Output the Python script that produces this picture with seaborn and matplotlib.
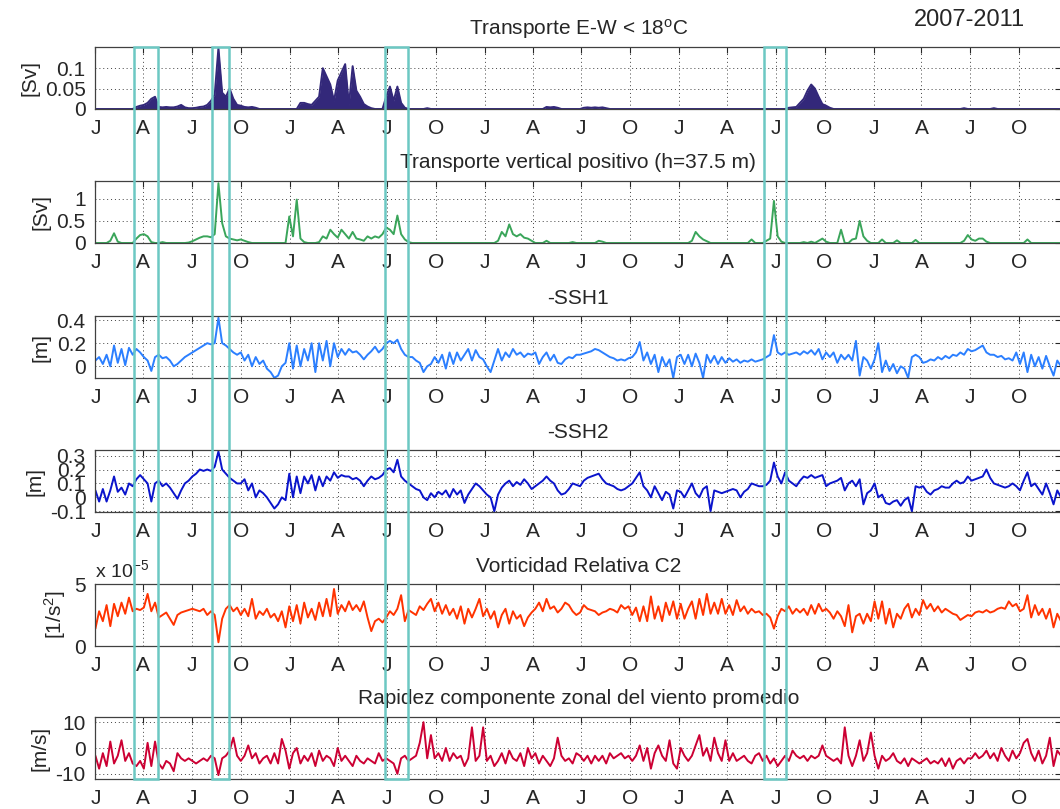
import pandas as pd
import matplotlib
matplotlib.use("Agg")
import matplotlib.pyplot as plt
import matplotlib.dates as mdates
import matplotlib.transforms as mtransforms
from matplotlib.patches import Rectangle
import seaborn as sns

# ---------------------------
# Style
# ---------------------------
sns.set_style("white")
plt.rcParams["font.family"] = ["Liberation Sans", "DejaVu Sans"]
plt.rcParams["mathtext.default"] = "regular"

# ---------------------------
# Data (weekly samples, one row per quarter)
# ---------------------------
START = "2007-01-01"
END = "2011-12-19"

EW_TRANSPORT = [
    0, 0, 0, 0, 0, 0, 0, 0, 0, 0, 0, 0.005, 0.008,
    0.01, 0.015, 0.025, 0.03, 0.005, 0.004, 0.005, 0.004, 0.004, 0.006, 0.01, 0.004, 0.002,
    0.002, 0.003, 0.005, 0.006, 0.01, 0.02, 0.035, 0.15, 0.04, 0.03, 0.05, 0.025, 0.01,
    0.008, 0.005, 0.004, 0.005, 0.003, 0, 0, 0, 0, 0, 0, 0, 0,
    0, 0, 0, 0.015, 0.015, 0.012, 0.01, 0.02, 0.03, 0.1, 0.08, 0.06, 0.02,
    0.07, 0.09, 0.11, 0.01, 0.105, 0.045, 0.03, 0.012, 0.006, 0.002, 0, 0, 0,
    0.03, 0.055, 0.02, 0.055, 0.015, 0.003, 0, 0, 0, 0, 0, 0.002, 0,
    0, 0, 0, 0, 0, 0, 0, 0, 0, 0, 0, 0, 0,
    0, 0, 0, 0, 0, 0, 0, 0, 0, 0, 0, 0, 0,
    0, 0, 0, 0, 0.005, 0.004, 0.005, 0.003, 0, 0, 0, 0, 0,
    0, 0.003, 0.004, 0.003, 0.004, 0.003, 0.004, 0.002, 0, 0, 0, 0, 0,
    0, 0, 0, 0, 0, 0, 0, 0, 0, 0, 0, 0, 0,
    0, 0, 0, 0, 0, 0, 0, 0, 0, 0, 0, 0, 0,
    0, 0, 0, 0, 0, 0, 0, 0, 0, 0, 0, 0, 0,
    0, 0, 0, 0, 0.003, 0.004, 0.005, 0.015, 0.025, 0.045, 0.06, 0.05, 0.03,
    0.012, 0.008, 0.003, 0, 0, 0, 0, 0, 0, 0, 0, 0, 0,
    0, 0, 0, 0, 0, 0, 0, 0, 0, 0, 0, 0, 0,
    0, 0, 0, 0, 0, 0, 0, 0, 0, 0, 0, 0, 0.002,
    0, 0, 0, 0, 0, 0, 0, 0.002, 0, 0, 0, 0, 0,
    0, 0, 0, 0, 0, 0, 0, 0, 0, 0, 0, 0, 0,
]

VERTICAL_TRANSPORT = [
    0, 0, 0, 0, 0.05, 0.22, 0.03, 0, 0, 0, 0, 0.1, 0.18,
    0.2, 0.15, 0.02, 0, 0, 0.02, 0, 0, 0, 0, 0, 0, 0.01,
    0.04, 0.08, 0.12, 0.15, 0.15, 0.13, 0.2, 1.35, 0.45, 0.15, 0.1, 0.08, 0.06,
    0.08, 0.05, 0.02, 0, 0, 0, 0, 0, 0, 0, 0, 0, 0,
    0.6, 0.15, 0.98, 0.1, 0.02, 0, 0, 0, 0.02, 0.15, 0.1, 0.3, 0.2,
    0.12, 0.3, 0.2, 0.1, 0.25, 0.1, 0.08, 0.05, 0.15, 0.1, 0.15, 0.12, 0.2,
    0.35, 0.3, 0.2, 0.62, 0.2, 0.08, 0.02, 0, 0, 0, 0, 0, 0,
    0, 0, 0, 0, 0, 0, 0, 0, 0, 0, 0, 0, 0,
    0, 0, 0, 0, 0.05, 0.25, 0.15, 0.42, 0.2, 0.15, 0.2, 0.12, 0.1,
    0.05, 0, 0, 0, 0.05, 0, 0, 0, 0, 0, 0, 0.02, 0,
    0, 0, 0, 0, 0, 0.05, 0.03, 0, 0, 0, 0, 0, 0,
    0, 0, 0, 0, 0, 0, 0, 0, 0, 0, 0, 0, 0,
    0, 0, 0, 0, 0.05, 0.25, 0.15, 0.08, 0.04, 0, 0, 0, 0,
    0, 0, 0, 0, 0, 0, 0, 0.08, 0, 0, 0, 0.05, 0.1,
    0.95, 0.15, 0.03, 0, 0, 0, 0, 0, 0.02, 0, 0.03, 0, 0.05,
    0.1, 0.03, 0, 0, 0, 0.3, 0, 0, 0.08, 0.1, 0.5, 0.15, 0.05,
    0, 0, 0, 0.08, 0, 0, 0, 0.06, 0, 0, 0, 0, 0.07,
    0, 0, 0, 0, 0, 0, 0, 0, 0, 0, 0, 0, 0.05,
    0.18, 0.08, 0.05, 0.1, 0.1, 0.03, 0, 0, 0, 0, 0, 0, 0,
    0, 0, 0, 0.08, 0, 0, 0, 0, 0, 0, 0, 0, 0,
]

SSH1 = [
    0.05, 0.08, 0.02, 0.1, 0.0, 0.18, 0.03, 0.15, 0.01, 0.16, 0.1, 0.15, 0.12,
    0.08, 0.05, -0.04, 0.08, 0.1, 0.07, 0.08, 0.05, 0.0, 0.02, 0.05, 0.08, 0.1,
    0.12, 0.14, 0.16, 0.18, 0.2, 0.19, 0.2, 0.42, 0.2, 0.18, 0.15, 0.12, 0.1,
    0.12, 0.05, 0.1, 0.0, 0.08, 0.02, 0.05, -0.02, -0.05, -0.1, -0.08, 0.0, 0.03,
    0.2, -0.02, 0.18, 0.0, 0.15, 0.05, 0.2, -0.05, 0.2, 0.05, 0.22, 0.0, 0.2,
    0.08, 0.15, 0.1, 0.15, 0.12, 0.13, 0.1, 0.06, 0.1, 0.13, 0.17, 0.12, 0.15,
    0.2, 0.22, 0.2, 0.23, 0.15, 0.1, 0.08, 0.08, 0.05, 0.03, -0.05, 0.0, 0.02,
    0.08, 0.03, 0.1, -0.02, 0.12, 0.02, 0.12, 0.05, 0.1, 0.15, 0.05, 0.14, 0.08,
    0.06, 0.0, -0.05, 0.05, 0.15, 0.05, 0.12, 0.08, 0.15, 0.1, 0.12, 0.08, 0.11,
    0.1, 0.12, 0.02, 0.08, 0.12, 0.05, 0.1, 0.03, 0.02, 0.06, 0.08, 0.07, 0.1,
    0.1, 0.11, 0.12, 0.13, 0.15, 0.14, 0.12, 0.1, 0.08, 0.07, 0.05, 0.06, 0.05,
    0.07, 0.08, 0.12, 0.21, 0.05, 0.12, 0.02, 0.1, -0.05, 0.08, 0.0, 0.06, -0.1,
    0.08, 0.1, 0.02, 0.1, 0.0, 0.11, 0.03, -0.1, 0.1, 0.03, 0.09, 0.02, 0.08,
    0.03, 0.07, 0.04, 0.06, 0.03, 0.05, 0.04, 0.06, 0.04, 0.05, 0.06, 0.08, 0.1,
    0.27, 0.12, 0.1, 0.12, 0.1, 0.11, 0.12, 0.1, 0.13, 0.11, 0.14, 0.1, 0.15,
    0.06, 0.12, 0.08, 0.12, 0.03, 0.1, 0.06, 0.1, 0.05, 0.22, -0.08, 0.08, 0.05,
    -0.02, 0.06, 0.2, -0.05, 0.05, -0.04, 0.02, -0.06, 0.0, -0.02, -0.1, 0.08, 0.1,
    0.08, 0.03, 0.04, 0.06, 0.05, 0.08, 0.06, 0.09, 0.07, 0.1, 0.09, 0.12, 0.1,
    0.15, 0.13, 0.14, 0.16, 0.18, 0.12, 0.1, 0.1, 0.08, 0.09, 0.06, 0.07, 0.05,
    0.12, 0.02, 0.12, -0.05, 0.1, 0.0, 0.08, -0.02, 0.09, 0.0, -0.08, 0.05, 0.0,
]

SSH2 = [
    0.05, -0.03, 0.06, -0.03, 0.05, 0.15, 0.04, 0.07, 0.02, 0.1, 0.08, 0.13, 0.16,
    0.13, 0.1, -0.03, 0.1, 0.12, 0.08, 0.1, 0.07, 0.03, -0.01, 0.05, 0.1, 0.12,
    0.15, 0.17, 0.2, 0.19, 0.2, 0.19, 0.22, 0.33, 0.2, 0.17, 0.14, 0.12, 0.1,
    0.1, 0.13, 0.05, 0.1, 0.0, 0.05, 0.03, 0.0, -0.04, -0.08, -0.05, 0.0, -0.02,
    0.17, 0.0, 0.15, 0.03, 0.15, 0.1, 0.16, 0.05, 0.15, 0.08, 0.15, 0.12, 0.18,
    0.14, 0.16, 0.15, 0.15, 0.13, 0.14, 0.12, 0.08, 0.12, 0.15, 0.13, 0.14, 0.16,
    0.2, 0.21, 0.18, 0.27, 0.15, 0.12, 0.1, 0.08, 0.06, 0.05, 0.0, -0.02, 0.03,
    0.0, 0.04, 0.02, 0.05, 0.0, 0.06, 0.02, 0.05, -0.04, 0.02, 0.06, 0.1, 0.08,
    0.05, 0.02, 0.0, -0.1, 0.02, 0.07, 0.1, 0.12, 0.08, 0.11, 0.09, 0.13, 0.1,
    0.06, 0.08, 0.1, 0.12, 0.15, 0.12, 0.1, 0.05, 0.02, 0.03, 0.06, 0.1, 0.09,
    0.08, 0.12, 0.14, 0.15, 0.16, 0.17, 0.13, 0.1, 0.09, 0.08, 0.06, 0.05, 0.06,
    0.08, 0.1, 0.14, 0.18, 0.08, 0.05, 0.0, 0.08, 0.03, -0.02, 0.04, 0.02, -0.08,
    0.05, 0.04, 0.0, 0.05, 0.1, 0.03, 0.0, 0.06, 0.08, -0.1, 0.05, 0.04, 0.03,
    0.04, 0.05, 0.06, 0.05, 0.0, 0.04, 0.06, 0.1, 0.09, 0.08, 0.08, 0.09, 0.12,
    0.25, 0.15, 0.1, 0.18, 0.12, 0.1, 0.08, 0.12, 0.15, 0.14, 0.16, 0.14, 0.15,
    0.16, 0.08, 0.1, 0.11, 0.12, 0.14, 0.05, 0.1, 0.12, 0.08, 0.13, -0.05, 0.03,
    0.05, 0.1, 0.0, 0.02, -0.04, -0.05, -0.03, -0.02, -0.06, -0.02, 0.0, -0.1, 0.08,
    0.07, 0.08, 0.04, 0.02, 0.05, 0.06, 0.08, 0.07, 0.07, 0.1, 0.12, 0.1, 0.11,
    0.15, 0.12, 0.13, 0.14, 0.15, 0.2, 0.14, 0.1, 0.09, 0.08, 0.07, 0.08, 0.1,
    0.08, 0.05, 0.12, 0.18, 0.08, 0.1, 0.06, 0.02, 0.1, 0.03, -0.05, 0.05, 0.0,
]

# relative vorticity, in units of 1e-5 1/s^2
VORTICITY = [
    1.4, 2.8, 2.0, 3.3, 1.6, 3.4, 2.4, 3.5, 2.6, 3.9, 2.8, 3.0, 2.9,
    3.1, 4.2, 2.8, 3.5, 2.3, 2.5, 2.7, 2.2, 1.7, 2.5, 2.7, 2.8, 2.9,
    3.0, 2.9, 2.8, 3.0, 2.5, 2.8, 2.5, 0.3, 2.2, 3.0, 3.3, 2.8, 3.1,
    2.5, 3.0, 2.4, 3.8, 2.2, 2.8, 2.5, 3.0, 2.3, 2.6, 2.0, 2.8, 1.5,
    3.2, 2.0, 3.3, 1.8, 3.5, 2.3, 3.0, 2.1, 3.5, 2.4, 3.8, 2.4, 4.6,
    2.6, 3.3, 2.8, 3.6, 2.9, 3.3, 2.8, 3.6, 2.3, 1.2, 2.0, 2.2, 1.9,
    2.3, 2.8, 2.5, 3.0, 4.1, 2.0, 2.9, 2.7, 2.5, 3.2, 2.9, 3.4, 3.8,
    2.8, 3.5, 2.6, 3.3, 2.5, 3.0, 2.2, 3.2, 1.8, 3.0, 2.3, 3.0, 3.8,
    2.4, 3.0, 2.2, 2.8, 1.5, 2.5, 3.0, 1.8, 2.8, 2.2, 2.5, 1.6, 2.3,
    2.7, 3.0, 3.5, 2.8, 3.8, 3.0, 3.2, 2.7, 3.0, 3.5, 3.3, 2.8, 2.5,
    2.7, 3.3, 3.0, 2.9, 2.8, 2.5, 2.7, 2.8, 3.0, 2.9, 2.7, 3.3, 3.0,
    3.2, 2.5, 3.1, 2.0, 3.2, 2.0, 4.0, 2.2, 3.2, 2.0, 3.5, 2.5, 3.6,
    2.2, 3.4, 2.2, 3.0, 3.6, 2.2, 3.8, 2.5, 4.2, 2.6, 3.5, 2.6, 3.8,
    2.6, 3.3, 2.5, 3.7, 2.8, 3.2, 2.6, 3.0, 2.7, 2.8, 2.5, 2.6, 2.3,
    1.4, 2.4, 3.0, 2.8, 3.2, 2.6, 3.0, 2.7, 3.0, 2.5, 3.3, 2.6, 3.4,
    2.8, 3.0, 2.7, 2.2, 2.8, 2.4, 1.6, 3.3, 1.1, 2.4, 2.6, 1.8, 2.6,
    2.0, 3.6, 2.2, 3.6, 1.8, 3.0, 1.5, 2.6, 2.2, 3.0, 3.4, 2.3, 3.0,
    2.5, 3.7, 3.0, 3.4, 2.8, 3.2, 2.7, 3.0, 2.8, 2.6, 2.5, 2.1, 2.3,
    2.5, 2.4, 2.7, 2.8, 2.7, 2.9, 2.7, 2.8, 3.0, 3.1, 3.0, 3.6, 3.2,
    3.4, 2.8, 3.0, 4.1, 2.3, 3.3, 2.5, 3.0, 2.2, 3.0, 1.5, 2.6, 2.0,
]

ZONAL_WIND = [
    -3, -8, -2, -7, 2.5, -6, -3, 3, -5, -2, -6, -7, -5,
    -8, 2, -7, 2.5, -6, -8, -5, -6, -9, -2, -4, -5, -4,
    -5, -6, -5, -4, -5, -3, -4, -10.5, -4, -3, -1, 4, -3,
    -5, -3, 1, -4, -2, -6, -4, -3, -6, -2, -6, 3.5, -1,
    -8, -2, 0, -6, -3, -5, -2, -7, -1, -5, -3, -4, -7,
    0, -5, -3, -5, -7, -3, -5, -6, -4, -5, -6, -2, -5,
    -4, -5, -6, -10, -4, -3, -5, -4, -3, 2, 10, -4, 5,
    -4, -2, -5, 0, -5, -2, -4, -3, -7, -4, 8, -5, -3,
    8, -5, -3, -7, -5, -2, -6, -1, -4, -5, -2, -7, 0,
    -4, -2, -6, -3, -5, -7, -4, 4, -3, -5, -4, -6, -2,
    -3, -5, -3, -6, -3, -5, -3, -6, -2, -4, -3, -2, -4,
    -3, -5, -3, 1, -5, 0, -8, -2, 1, -3, -5, 3, -6,
    -8, 0, -3, -5, -3, 1, 5, -3, 0, -5, 4, -2, -5,
    3, -5, -2, -5, -4, -3, -5, -6, -3, -2, -5, -3, -6,
    -4, -7, -5, -3, -5, -1, -3, -4, -3, -5, -3, -4, -3,
    1, -3, -4, -5, -4, -6, 8, -3, -7, -3, 3, -5, -2,
    6, -3, -8, -3, -5, -4, -2, -5, -6, -4, -7, -4, -5,
    -6, -5, -4, -6, -5, -6, -4, -7, -4, -8, -5, -4, -6,
    -4, -4, -2, -4, -3, -1, -4, -2, -5, 0, -3, -5, -1,
    -4, -2, 2, 3.5, -2, -5, -1, -6, -3, 4, -7, -1, -3,
]

MONTH_LETTERS = ["J", "A", "J", "O"]

# highlighted events (start, end)
EVENTS = [
    ("2007-03-15", "2007-04-29"),
    ("2007-08-08", "2007-09-08"),
    ("2008-06-27", "2008-08-09"),
    ("2010-06-10", "2010-07-20"),
]

PANELS = [
    {"title": r"Transporte E-W < 18$^{o}$C", "values": EW_TRANSPORT, "color": "#33287a",
     "ylabel": "[Sv]", "yticks": [0, 0.05, 0.1], "yticklabels": ["0", "0.05", "0.1"],
     "ylim": (0, 0.152), "fill": True},
    {"title": "Transporte vertical positivo (h=37.5 m)", "values": VERTICAL_TRANSPORT, "color": "#3aa55a",
     "ylabel": "[Sv]", "yticks": [0, 0.5, 1], "yticklabels": ["0", "0.5", "1"],
     "ylim": (0, 1.4), "fill": False},
    {"title": "-SSH1", "values": SSH1, "color": "#2b7fff",
     "ylabel": "[m]", "yticks": [0, 0.2, 0.4], "yticklabels": ["0", "0.2", "0.4"],
     "ylim": (-0.101, 0.435), "fill": False},
    {"title": "-SSH2", "values": SSH2, "color": "#0a14cc",
     "ylabel": "[m]", "yticks": [-0.1, 0, 0.1, 0.2, 0.3], "yticklabels": ["-0.1", "0", "0.1", "0.2", "0.3"],
     "ylim": (-0.105, 0.34), "fill": False},
    {"title": "Vorticidad Relativa C2", "values": VORTICITY, "color": "#ff3300",
     "ylabel": r"[1/s$^{2}$]", "yticks": [0, 5], "yticklabels": ["0", "5"],
     "ylim": (0, 5), "fill": False},
    {"title": "Rapidez componente zonal del viento promedio", "values": ZONAL_WIND, "color": "#cc0033",
     "ylabel": "[m/s]", "yticks": [-10, 0, 10], "yticklabels": ["-10", "0", "10"],
     "ylim": (-12, 12), "fill": False},
]

# ---------------------------
# Figure
# ---------------------------
W, H = 1060, 809
fig = plt.figure(figsize=(W / 100, H / 100), dpi=100)

AX_LEFT, AX_RIGHT = 95.4, 1061
PANEL_TOPS = [47, 181, 316, 450, 584, 717]
PANEL_H = 62

dates = pd.date_range(START, periods=len(EW_TRANSPORT), freq="7D")
quarter_ticks = pd.date_range(START, "2011-10-01", freq="QS")

axes = []
for top, p in zip(PANEL_TOPS, PANELS):
    ax = fig.add_axes([AX_LEFT / W, 1 - (top + PANEL_H) / H,
                       (AX_RIGHT - AX_LEFT) / W, PANEL_H / H])
    if p["fill"]:
        ax.fill_between(dates, 0, p["values"], color=p["color"], lw=0)
    sns.lineplot(x=dates, y=p["values"], ax=ax, color=p["color"], lw=1.4)

    ax.set_xlim(pd.Timestamp(START), pd.Timestamp(END))
    ax.set_ylim(*p["ylim"])
    ax.set_xticks(quarter_ticks)
    ax.set_xticklabels(MONTH_LETTERS * 5)
    ax.set_yticks(p["yticks"])
    ax.set_yticklabels(p["yticklabels"])

    ax.grid(True, ls=(0, (1, 3)), color="0.25", lw=0.7)
    ax.tick_params(direction="in", top=True, right=True, length=4, width=0.8,
                   labelsize=15, pad=7, color="0.15")
    for s in ax.spines.values():
        s.set_color("0.25")
        s.set_linewidth(0.9)

    ax.set_xlabel("")
    ax.set_ylabel(p["ylabel"], fontsize=15, labelpad=4)
    ax.set_title(p["title"], fontsize=15, pad=9)
    axes.append(ax)

# multiplier label for the vorticity panel
axes[4].text(0.0, 1.04, r"x 10$^{-5}$", transform=axes[4].transAxes,
             ha="left", va="bottom", fontsize=14)

fig.text(1025 / W, 1 - 20 / H, "2007-2011", ha="right", va="center", fontsize=17)

# event boxes spanning all panels
trans = mtransforms.blended_transform_factory(axes[-1].transData, fig.transFigure)
y_bot = 1 - (PANEL_TOPS[-1] + PANEL_H) / H
y_top = 1 - PANEL_TOPS[0] / H
for start, end in EVENTS:
    x0 = mdates.date2num(pd.Timestamp(start))
    x1 = mdates.date2num(pd.Timestamp(end))
    fig.add_artist(Rectangle((x0, y_bot), x1 - x0, y_top - y_bot, transform=trans,
                             fill=False, ec="#6cc8c3", lw=1.8, zorder=20))

fig.savefig("out.png", dpi=100)
plt.close(fig)
